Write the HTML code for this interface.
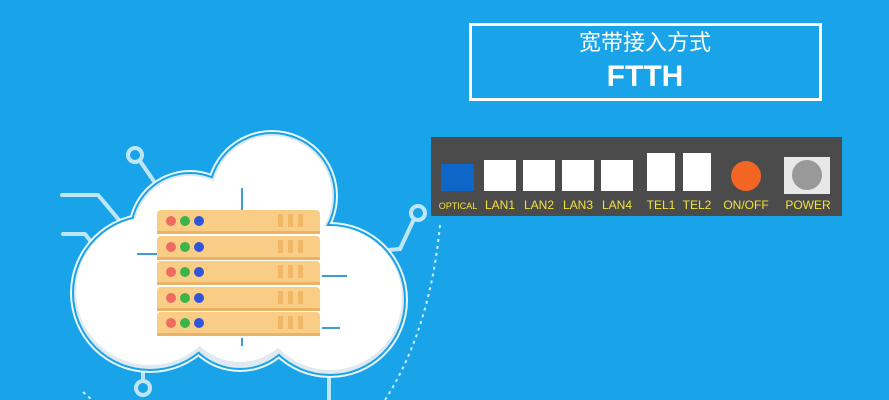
<!DOCTYPE html>
<html><head><meta charset="utf-8"><style>
html,body{margin:0;padding:0;}
body{width:889px;height:400px;overflow:hidden;background:#19a3e8;}
</style></head><body>
<svg width="889" height="400" xmlns="http://www.w3.org/2000/svg" style="display:block">
<rect width="889" height="400" fill="#19a3e8"/>
<!-- title -->
<rect x="470.5" y="24.5" width="350" height="75" fill="none" stroke="#fff" stroke-width="3"/>
<text x="645" y="50" text-anchor="middle" fill="#fff" font-family="Liberation Sans, Noto Sans CJK SC, sans-serif" font-size="22">宽带接入方式</text>
<text x="645" y="86" text-anchor="middle" fill="#fff" font-family="Liberation Sans, sans-serif" font-weight="bold" font-size="30">FTTH</text>
<!-- connectors -->
<g stroke="#bfe6f7" stroke-width="4" fill="none" stroke-linecap="round">
<circle cx="135" cy="155" r="7"/>
<line x1="140" y1="161" x2="162" y2="193"/>
<polyline points="62,195 98,195 130,233"/>
<polyline points="63,234 85,234 96,248"/>
<circle cx="418" cy="213" r="7"/>
<polyline points="414,219 400,249 388,250"/>
<circle cx="143" cy="388" r="7"/>
<line x1="143" y1="381" x2="143" y2="366"/>
<line x1="329" y1="364" x2="329" y2="400"/>
</g>
<path d="M440,225 Q430,330 385,400" stroke="#cfeefb" stroke-width="2" stroke-dasharray="3,4" fill="none"/>
<path d="M83,392 L92,400" stroke="#cfeefb" stroke-width="2" stroke-dasharray="3,4" fill="none"/>
<!-- cloud -->
<g fill="#e8f6fc">
<circle cx="272" cy="196" r="66"/><circle cx="190" cy="232" r="62"/>
<circle cx="150" cy="293" r="80"/><circle cx="330" cy="300" r="78"/>
<circle cx="240" cy="308" r="64"/>
</g>
<g fill="#19a3e8">
<circle cx="272" cy="196" r="64"/><circle cx="190" cy="232" r="60"/>
<circle cx="150" cy="293" r="78"/><circle cx="330" cy="300" r="76"/>
<circle cx="240" cy="308" r="62"/>
</g>
<g fill="#dfe9f0">
<circle cx="272" cy="196" r="62"/><circle cx="190" cy="232" r="58"/>
<circle cx="150" cy="293" r="76"/><circle cx="330" cy="300" r="74"/>
<circle cx="240" cy="308" r="60"/>
</g>
<g fill="#fff">
<circle cx="272" cy="196" r="60"/><circle cx="190" cy="232" r="56"/>
<circle cx="150" cy="291" r="74"/><circle cx="330" cy="298" r="72"/>
<circle cx="240" cy="304" r="58"/>
</g>
<g stroke="#3a9fd0" stroke-width="2">
<line x1="242" y1="188" x2="242" y2="210"/>
<line x1="137" y1="254" x2="157" y2="254"/>
<line x1="322" y1="276" x2="347" y2="276"/>
<line x1="322" y1="328" x2="340" y2="328"/>
<line x1="242" y1="338" x2="242" y2="346"/>
</g>
<!-- server -->
<g>
<g id="r">
<rect x="157" y="210" width="163" height="24" rx="4" fill="#f9cd85"/>
<rect x="157" y="231" width="163" height="3" fill="#eab466"/>
<circle cx="171" cy="221" r="5" fill="#ef6b62"/><circle cx="185" cy="221" r="5" fill="#3db44a"/><circle cx="199" cy="221" r="5" fill="#2f55d8"/>
<rect x="278" y="214" width="5" height="13" fill="#f0b866"/><rect x="288" y="214" width="5" height="13" fill="#f0b866"/><rect x="298" y="214" width="5" height="13" fill="#f0b866"/>
</g>
<use href="#r" y="26"/><use href="#r" y="51"/><use href="#r" y="77"/><use href="#r" y="102"/>
</g>
<!-- panel -->
<rect x="431" y="137" width="411" height="79" fill="#4b4b4b"/>
<rect x="441" y="164" width="33" height="27" fill="#0d66c8"/>
<g fill="#fff">
<rect x="484" y="160" width="32" height="31"/><rect x="523" y="160" width="32" height="31"/>
<rect x="562" y="160" width="32" height="31"/><rect x="601" y="160" width="32" height="31"/>
<rect x="647" y="153" width="28" height="38"/><rect x="683" y="153" width="28" height="38"/>
</g>
<circle cx="746" cy="176" r="15" fill="#f26522"/>
<rect x="784" y="157" width="46" height="37" fill="#e8e8e8"/>
<circle cx="807" cy="175" r="15" fill="#999"/>
<g fill="#f2e23c" font-family="Liberation Sans, sans-serif" font-size="12" text-anchor="middle">
<text x="458" y="209" font-size="9">OPTICAL</text>
<text x="500" y="209">LAN1</text><text x="539" y="209">LAN2</text>
<text x="578" y="209">LAN3</text><text x="617" y="209">LAN4</text>
<text x="661" y="209">TEL1</text><text x="697" y="209">TEL2</text>
<text x="746" y="209">ON/OFF</text><text x="808" y="209">POWER</text>
</g>
</svg>
</body></html>
